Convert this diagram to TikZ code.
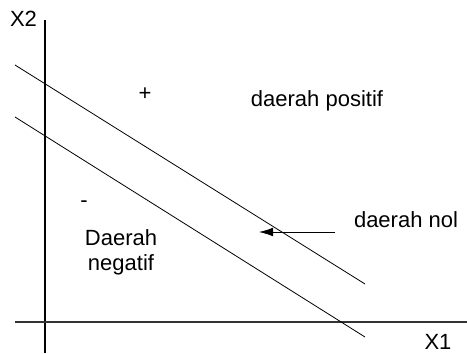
\documentclass[tikz,border=0pt]{standalone}
\usepackage{fontspec}
\setmainfont{Liberation Sans}
\usetikzlibrary{arrows.meta}
\begin{document}
\begin{tikzpicture}[x=0.75pt,y=-0.75pt,
  lbl/.style={inner sep=0pt,anchor=base,font=\fontsize{16.5}{19.3}\selectfont},
  axis/.style={line width=0.8pt},
  bound/.style={line width=0.6pt},
  pointer/.style={line width=0.6pt,-{Latex[length=10.5pt,width=6.5pt]}}]
\useasboundingbox (0,0) rectangle (467,353);
% axes
\coordinate (ytop) at (45,20);
\coordinate (ybot) at (45,353);
\coordinate (xl) at (15,322);
\coordinate (xr) at (467,322);
\draw[axis] (ybot) -- (ytop);
\draw[axis,black!80] (xl) -- (xr);
% boundary lines
\coordinate (u1) at (15,65);
\coordinate (u2) at (365,284);
\coordinate (l1) at (15,117);
\coordinate (l2) at (365,337);
\draw[bound] (u1) -- (u2);
\draw[bound] (l1) -- (l2);
% labels
\node[lbl] (x2) at (23.5,27) {X2};
\node[lbl] (x1) at (438,349.5) {X1};
\node[lbl] (plus) at (145,100) {+};
\node[lbl] (minus) at (84,207) {-};
\node[lbl] (pos) at (317,106.5) {daerah positif};
\node[lbl] (nol) at (406,227.3) {daerah nol};
\node[lbl] (neg1) at (121,245) {Daerah};
\node[lbl] (neg2) at (121,270.7) {negatif};
% arrow
\coordinate (as) at (335,232);
\coordinate (ae) at (259,232);
\draw[pointer] (as) -- (ae);
\end{tikzpicture}
\end{document}
